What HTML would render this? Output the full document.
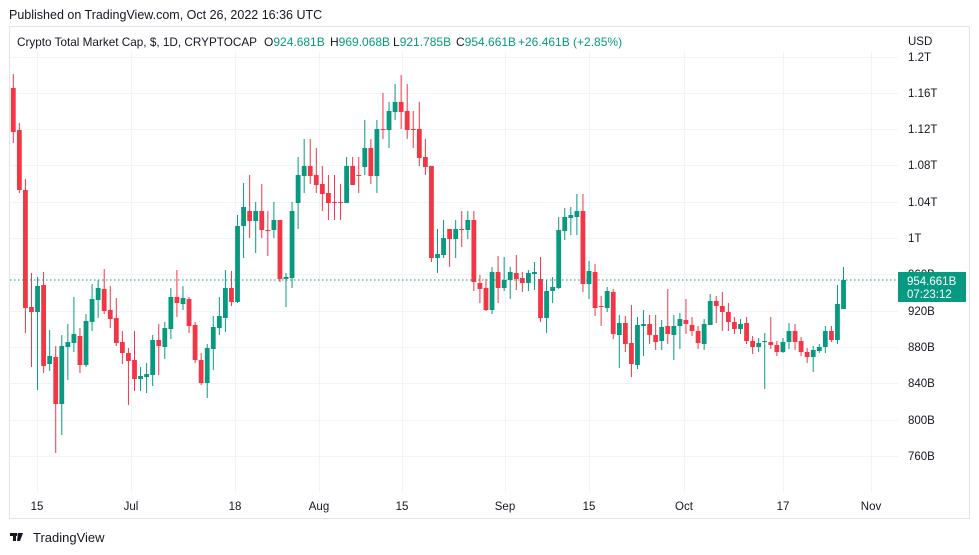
<!DOCTYPE html>
<html><head><meta charset="utf-8"><style>
body{margin:0;background:#fff;width:979px;height:555px;overflow:hidden;font-family:"Liberation Sans",sans-serif;}
svg{position:absolute;left:0;top:0}
</style></head><body>
<svg id="s" width="979" height="555" xmlns="http://www.w3.org/2000/svg" font-family="Liberation Sans, sans-serif">
<text x="9" y="19" font-size="12.5" fill="#131722">Published on TradingView.com, Oct 26, 2022 16:36 UTC</text>
<rect x="9.5" y="26.5" width="960" height="492" fill="none" stroke="#e0e3eb"/>
<g id="grid" stroke="#f0f3fa" stroke-width="1"></g>
<g font-size="12" fill="#089981">
<text x="17" y="46" fill="#131722" textLength="240" lengthAdjust="spacingAndGlyphs">Crypto Total Market Cap, $, 1D, CRYPTOCAP</text>
<text x="264" y="46"><tspan fill="#131722">O</tspan>924.681B</text>
<text x="330" y="46"><tspan fill="#131722">H</tspan>969.068B</text>
<text x="393" y="46"><tspan fill="#131722">L</tspan>921.785B</text>
<text x="456" y="46"><tspan fill="#131722">C</tspan>954.661B</text>
<text x="518" y="46">+26.461B (+2.85%)</text>
</g>
<text x="908" y="45" font-size="11.5" fill="#131722">USD</text>
<g id="c"></g>
<line x1="10" y1="280" x2="898" y2="280" stroke="#089981" stroke-dasharray="1.5,2.5"/>
<g id="yl" font-size="11.5" fill="#131722"></g>
<rect x="898" y="272" width="68" height="30" fill="#089981"/>
<text x="907" y="285" font-size="11.5" fill="#fff">954.661B</text>
<text x="907" y="298" font-size="11.5" fill="#fff">07:23:12</text>
<g id="xl" font-size="11.5" fill="#131722" text-anchor="middle">
<text x="37" y="510">15</text><text x="131" y="510">Jul</text><text x="235" y="510">18</text><text x="319" y="510">Aug</text><text x="402" y="510">15</text><text x="505" y="510">Sep</text><text x="589" y="510">15</text><text x="684" y="510">Oct</text><text x="783" y="510">17</text><text x="871" y="510">Nov</text>
</g>
<g fill="#131722"><rect x="10" y="533" width="7" height="3"/><rect x="13" y="533" width="3" height="8"/><path d="M18 533h5l-3 8h-3z"/><circle cx="19" cy="534.5" r="1.5"/></g>
<text x="33" y="542" font-size="13" fill="#131722">TradingView</text>
</svg>
<script>
var ns="http://www.w3.org/2000/svg";
function el(p,t,a){var e=document.createElementNS(ns,t);for(var k in a)e.setAttribute(k,a[k]);p.appendChild(e);return e;}
var g=document.getElementById('grid'),yl=document.getElementById('yl');
var ys=[[57,"1.2T"],[93,"1.16T"],[129,"1.12T"],[165,"1.08T"],[202,"1.04T"],[238,"1T"],[274,"960B"],[311,"920B"],[347,"880B"],[383,"840B"],[420,"800B"],[456,"760B"]];
ys.forEach(function(v){el(g,'line',{x1:10,x2:898,y1:v[0]+.5,y2:v[0]+.5});var t=el(yl,'text',{x:908,y:v[0]+4});t.textContent=v[1];});
[37,131,235,319,402,505,589,684,783,871].forEach(function(x){el(g,'line',{x1:x+.5,x2:x+.5,y1:52,y2:492});});
var d=[[88,132,74,143],[130,190,123,193],[190,308,179,333],[307,312,273,367],[312,286,277,390],[285,366,272,373],[364,356,330,371],[357,404,346,453],[404,346,335,435],[347,342,324,380],[343,334,297,352],[336,365,328,373],[365,321,314,367],[322,299,284,331],[300,288,280,318],[289,311,269,314],[310,319,286,328],[318,343,298,346],[342,353,331,364],[353,361,348,405],[360,379,331,391],[379,376,367,391],[377,374,363,393],[375,340,335,386],[340,346,324,375],[347,328,322,359],[329,297,288,339],[297,303,270,317],[304,298,286,310],[299,326,297,333],[325,360,322,363],[360,383,353,385],[383,348,344,398],[349,327,316,370],[328,316,297,335],[318,288,270,332],[288,302,271,306],[302,226,215,303],
[226,207,183,258],[211,221,175,238],[221,211,202,253],[211,230,184,238],[230,230.5,211,256],[230,220,202,238],[220,279,220,282],[279,277,273,307],[278,211,202,288],[203,175,157,229],[176,166,139,193],[166,176,139,184],[175,185,148,193],[184,194,166,211],[193,203,175,220],[202,202.5,175,220],[202,202.5,184,220],[203,166,157,203],[166,185,157,185],[175,175.5,157,193],[167,148,120,175],[148,176,139,184],[176,129,120,193],[129,129.5,93,139],[130,111,102,148],[112,102,84,120],[102,112,75,129],[111,130,84,139],[129,129.5,111,148],[129,158,102,166],[157,167,139,175],[166,258,166,262],
[258,254,229,273],[255,238,220,258],[229,239,229,267],[239,229,220,258],[229,229.5,211,247],[230,220,211,239],[220,282,211,291],[283,289,275,303],[288,310,279,311],[310,272,267,314],[272,288,256,303],[288,280,257,291],[280,272,267,299],[273,279,255,290],[278,283,272,292],[283,273,270,291],[274,272,262,290],[279,318,257,322],[318,291,280,333],[291,287,277,303],[288,230,217,289],[231,217,208,240],[218,215,207,235],[217,211,194,235],[211,284,194,292],[284,271,261,299],[272,308,264,316],[306,306.5,296,326],[308,291,287,312],[292,334,289,339],[335,323,315,368],[323,344,316,352],[343,364,305,377],[365,325,317,369],[326,324,310,356],[324,335,315,344],
[335,342,315,350],[341,327,320,350],[326,334,289,344],[335,326,315,360],[326,319,313,349],[320,324,299,334],[325,331,317,336],[331,343,326,349],[344,324,319,350],[325,301,294,325],[301,306,296,323],[306,312,292,331],[312,322,303,331],[322,329,317,334],[329,324,319,334],[323,341,317,344],[341,347,336,354],[347,343,338,352],[342,341,333,389],[342,345,317,349],[345,352,341,356],[352,342,338,353],[342,331,323,349],[331,342,324,350],[341,352,337,356],[352,357,348,363],[357,350,346,372],[351,347,344,353],[347,331,326,353],[331,340,326,342],[340,304,285,344],[309,280,267,309]];
var c=document.getElementById('c');
d.forEach(function(k,i){var x=13.3+i*6.06;var up=k[1]<k[0];var col=up?"#089981":"#f23645";
el(c,'line',{x1:x,x2:x,y1:k[2],y2:k[3],stroke:col,'stroke-width':1});
var top=Math.min(k[0],k[1]),h=Math.max(1,Math.abs(k[0]-k[1]));
el(c,'rect',{x:x-2.4,y:top,width:4.8,height:h,fill:col});});
</script>
</body></html>
